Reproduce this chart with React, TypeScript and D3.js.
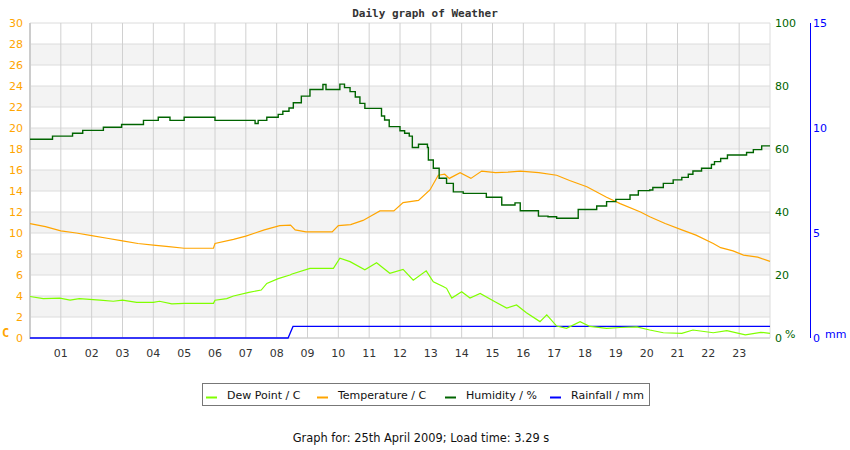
import React from 'react'
import * as d3 from 'd3'

// readings, hour of day -> value
const TEMP_HOURS = [0, 0.5, 1, 1.5, 2, 2.5, 3, 3.5, 4, 4.5, 5, 5.5, 5.95, 6, 6.6, 7, 7.3, 7.6, 8.1, 8.45, 8.6, 8.95, 9.8, 10, 10.4, 10.8, 11.1, 11.35, 11.8, 12.1, 12.6, 12.97, 13.24, 13.45, 13.6, 13.95, 14.3, 14.65, 15.1, 15.5, 15.9, 16.5, 17.08, 17.5, 18.06, 18.7, 19.14, 19.8, 20.1, 20.6, 21.14, 21.6, 22.16, 22.4, 22.8, 23.14, 23.6, 24]
const TEMP_VALUES = [10.9, 10.6, 10.2, 10.0, 9.75, 9.5, 9.25, 9.0, 8.85, 8.7, 8.55, 8.55, 8.55, 9.0, 9.4, 9.7, 10.0, 10.3, 10.7, 10.75, 10.3, 10.1, 10.1, 10.7, 10.8, 11.2, 11.7, 12.1, 12.1, 12.9, 13.1, 14.1, 15.5, 15.6, 15.2, 15.75, 15.2, 15.9, 15.75, 15.8, 15.9, 15.75, 15.5, 15.0, 14.4, 13.4, 12.8, 12.0, 11.55, 10.9, 10.3, 9.8, 9.0, 8.6, 8.3, 7.9, 7.7, 7.3]

const HUM_HOURS = [0, 0.73, 1.38, 1.71, 2.38, 2.97, 3.68, 4.16, 4.54, 5, 6, 7.3, 7.4, 7.68, 8.05, 8.2, 8.4, 8.54, 8.8, 9.08, 9.5, 9.6, 9.84, 10.05, 10.2, 10.38, 10.55, 10.7, 10.86, 11.24, 11.4, 11.5, 11.65, 12, 12.15, 12.3, 12.4, 12.6, 12.89, 12.92, 13.08, 13.27, 13.51, 13.73, 14.05, 14.8, 15.3, 15.73, 15.9, 16.2, 16.49, 16.8, 17.08, 17.51, 17.78, 18.38, 18.7, 19, 19.46, 19.73, 20.1, 20.2, 20.54, 20.86, 21.14, 21.35, 21.5, 21.78, 22.1, 22.2, 22.4, 22.62, 23.24, 23.46, 23.73, 24]
const HUM_VALUES = [63.1, 64.1, 65.0, 65.9, 66.9, 67.8, 69.1, 70.1, 69.1, 70.1, 69.1, 68.1, 69.1, 70.1, 71.0, 72.0, 73.0, 74.7, 76.8, 78.9, 80.5, 78.9, 78.9, 80.6, 79.5, 78.2, 76.5, 74.5, 72.9, 72.9, 70.5, 69.2, 67.1, 65.8, 65.0, 64.1, 60.5, 61.5, 60.5, 56.5, 53.9, 50.7, 49.1, 46.4, 45.9, 44.7, 42.2, 42.9, 40.4, 40.4, 38.7, 38.5, 38.0, 38.0, 40.8, 41.9, 43.3, 44.0, 45.4, 46.8, 47.0, 47.8, 49.1, 50.2, 51.0, 52.0, 53.0, 53.9, 55.1, 56.0, 57.0, 58.1, 58.9, 59.8, 61.0, 61.0]

const DEW_HOURS = [0, 0.43, 0.97, 1.3, 1.6, 2.27, 2.7, 3, 3.46, 4, 4.2, 4.6, 5, 5.95, 6, 6.38, 6.6, 7.1, 7.5, 7.68, 8.05, 8.43, 8.5, 9.08, 9.84, 10.05, 10.38, 10.86, 11.24, 11.67, 12.1, 12.43, 12.85, 13.08, 13.4, 13.51, 13.68, 14, 14.27, 14.6, 15.08, 15.46, 15.78, 16.1, 16.54, 16.76, 17.08, 17.4, 17.84, 18.16, 18.7, 19.14, 19.68, 20.1, 20.54, 21.14, 21.5, 22.16, 22.6, 23.2, 23.7, 24]
const DEW_VALUES = [3.95, 3.75, 3.8, 3.6, 3.75, 3.6, 3.5, 3.6, 3.4, 3.4, 3.5, 3.25, 3.3, 3.3, 3.6, 3.75, 4.0, 4.35, 4.57, 5.2, 5.65, 6.0, 6.1, 6.63, 6.63, 7.6, 7.27, 6.5, 7.17, 6.16, 6.54, 5.5, 6.4, 5.36, 4.9, 4.73, 3.8, 4.4, 3.8, 4.25, 3.46, 2.85, 3.15, 2.4, 1.56, 2.2, 1.14, 0.92, 1.56, 1.1, 0.92, 1.0, 1.05, 0.76, 0.5, 0.44, 0.76, 0.5, 0.7, 0.29, 0.54, 0.44]

const RAIN_HOURS = [0, 8.37, 8.53, 24]
const RAIN_VALUES = [0, 0, 0.55, 0.55]

const HOUR_TICKS = ['01', '02', '03', '04', '05', '06', '07', '08', '09', '10', '11', '12', '13', '14', '15', '16', '17', '18', '19', '20', '21', '22', '23']
const TEMP_TICKS = [0, 2, 4, 6, 8, 10, 12, 14, 16, 18, 20, 22, 24, 26, 28, 30]
const HUM_TICKS = [0, 20, 40, 60, 80, 100]
const RAIN_TICKS = [0, 5, 10, 15]

const LEGEND = [
  { label: 'Dew Point / C', color: '#80ff00', x: 206 },
  { label: 'Temperature / C', color: '#ffa500', x: 317 },
  { label: 'Humidity / %', color: '#006400', x: 445 },
  { label: 'Rainfall / mm', color: '#0000ff', x: 550 },
]

const FONT = '"DejaVu Sans", Verdana, sans-serif'

export default function App() {
  const left = 30
  const right = 770
  const top = 23
  const bottom = 338

  const x = d3.scaleLinear().domain([0, 24]).range([left, right])
  const yT = d3.scaleLinear().domain([0, 30]).range([bottom, top])
  const yH = d3.scaleLinear().domain([0, 100]).range([bottom, top])
  const yR = d3.scaleLinear().domain([0, 15]).range([bottom, top])

  const pairs = (hs: number[], vs: number[]) => hs.map((h, i) => [h, vs[i]] as [number, number])

  const lineFor = (y: d3.ScaleLinear<number, number>, curve: d3.CurveFactory) =>
    d3
      .line<[number, number]>()
      .x((d) => x(d[0]))
      .y((d) => y(d[1]))
      .curve(curve)

  const dewPath = lineFor(yT, d3.curveLinear)(pairs(DEW_HOURS, DEW_VALUES)) || ''
  const tempPath = lineFor(yT, d3.curveLinear)(pairs(TEMP_HOURS, TEMP_VALUES)) || ''
  const humPath = lineFor(yH, d3.curveStepAfter)(pairs(HUM_HOURS, HUM_VALUES)) || ''
  const rainPath = lineFor(yR, d3.curveLinear)(pairs(RAIN_HOURS, RAIN_VALUES)) || ''

  return (
    <svg
      width={850}
      height={450}
      style={{ position: 'absolute', left: 0, top: 0, background: '#fff' }}
      fontFamily={FONT}
    >
      <text
        x={425}
        y={17}
        textAnchor="middle"
        fontFamily='"DejaVu Sans Mono", monospace'
        fontWeight="bold"
        fontSize={11}
        fill="#333"
      >
        Daily graph of Weather
      </text>

      {/* stripes */}
      {TEMP_TICKS.slice(0, -1).map((v, i) =>
        i % 2 === 1 ? (
          <rect key={v} x={left} y={yT(v + 2)} width={right - left} height={yT(v) - yT(v + 2)} fill="#f3f3f3" />
        ) : null
      )}
      {TEMP_TICKS.map((v) => (
        <line key={v} x1={left} x2={right} y1={yT(v)} y2={yT(v)} stroke="#dcdcdc" />
      ))}
      {HOUR_TICKS.map((_, i) => (
        <line key={i} x1={x(i + 1)} x2={x(i + 1)} y1={top} y2={bottom} stroke="#d0d0d0" />
      ))}
      <line x1={left} x2={left} y1={top} y2={bottom + 1} stroke="#cccccc" strokeWidth={2} />
      <line x1={right} x2={right} y1={top} y2={bottom} stroke="#dcdcdc" />
      <line x1={left} x2={right} y1={bottom} y2={bottom} stroke="#cccccc" />

      {/* axes labels */}
      {TEMP_TICKS.map((v) => (
        <text key={v} x={23} y={yT(v) + 4} textAnchor="end" fontSize={11} fill="#ffa500">
          {v}
        </text>
      ))}
      <text x={2} y={337} fontSize={12} fontWeight="bold" fontFamily='"DejaVu Sans Mono", monospace' fill="#ffa500">
        C
      </text>
      {HOUR_TICKS.map((t, i) => (
        <text key={t} x={x(i + 1)} y={357} textAnchor="middle" fontSize={11} fill="#333">
          {t}
        </text>
      ))}
      {HUM_TICKS.map((v) => (
        <text key={v} x={775} y={yH(v) + 4} fontSize={11} fill="#006400">
          {v}
        </text>
      ))}
      <text x={785} y={338} fontSize={11} fill="#006400">
        %
      </text>
      <line x1={810.5} x2={810.5} y1={top} y2={bottom} stroke="#0000ff" />
      {RAIN_TICKS.map((v) => (
        <text key={v} x={813} y={yR(v) + 4} fontSize={11} fill="#0000ff">
          {v}
        </text>
      ))}
      <text x={825} y={338} fontSize={11} fill="#0000ff">
        mm
      </text>

      {/* series */}
      <path d={rainPath} fill="none" stroke="#0000ff" strokeWidth={1.3} />
      <path d={dewPath} fill="none" stroke="#80ff00" strokeWidth={1.2} />
      <path d={tempPath} fill="none" stroke="#ffa500" strokeWidth={1.2} />
      <path d={humPath} fill="none" stroke="#006400" strokeWidth={1.4} />

      {/* legend */}
      <rect x={202.5} y={383.5} width={447} height={22} fill="#fff" stroke="#777" />
      {LEGEND.map((l) => (
        <g key={l.label}>
          <line x1={l.x} x2={l.x + 11} y1={397.5} y2={397.5} stroke={l.color} strokeWidth={2} />
          <text x={l.x + 21} y={399} fontSize={11} fill="#111">
            {l.label}
          </text>
        </g>
      ))}

      <text x={421} y={442} textAnchor="middle" fontSize={11.4} fill="#111">
        Graph for: 25th April 2009; Load time: 3.29 s
      </text>
    </svg>
  )
}
